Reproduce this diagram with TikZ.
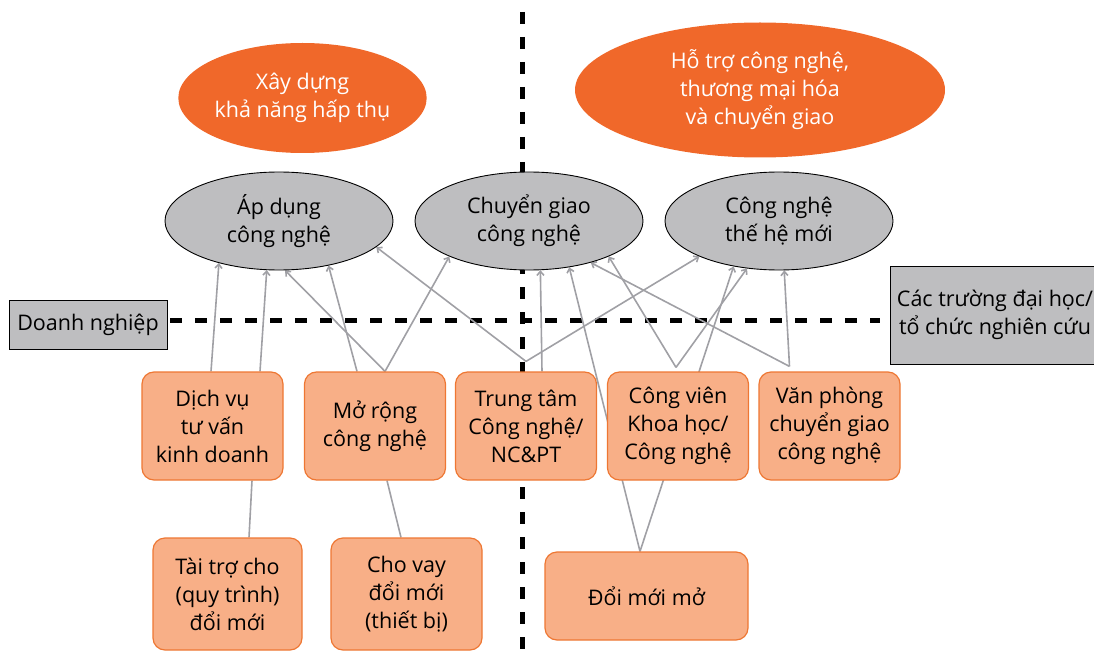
\documentclass[tikz,border=0pt]{standalone}
\usepackage{fontspec}
\setmainfont{Open Sans}
\usetikzlibrary{shapes.geometric}
\usetikzlibrary{arrows.meta}
\usetikzlibrary{backgrounds}
\usetikzlibrary{positioning}

\definecolor{goalorange}{HTML}{F0682A}
\definecolor{toolfill}{HTML}{F8AF87}
\definecolor{tooldraw}{HTML}{EE7733}
\definecolor{greyfill}{HTML}{BEBEC0}
\definecolor{linkgrey}{HTML}{A0A0A5}

\tikzset{
    txt/.style={font=\fontsize{21.5}{28}\selectfont, align=center},
    goal/.style={txt, ellipse, fill=goalorange, text=white, inner sep=0pt},
    area/.style={txt, ellipse, draw=black, line width=0.9pt, fill=greyfill,
        minimum width=228pt, minimum height=98pt, inner sep=0pt},
    tool/.style={txt, rectangle, rounded corners=12pt, draw=tooldraw, line width=1.2pt,
        fill=toolfill, minimum width=141pt, minimum height=108pt, inner sep=0pt},
    side/.style={txt, rectangle, draw=black, line width=0.9pt, fill=greyfill, inner sep=0pt},
    link/.style={draw=linkgrey, line width=1.6pt, -{Straight Barb[length=4pt,width=7pt]}},
    tie/.style={draw=linkgrey, line width=1.6pt},
    divider/.style={line width=5pt, dash pattern=on 12pt off 13pt}
}

\begin{document}
\begin{tikzpicture}[x=1pt,y=-1pt]
    \useasboundingbox (0,0) rectangle (1094,655);

    % Goals
    \node[goal, minimum width=235pt, minimum height=110pt] (absorb) at (302.5,98) {Xây dựng\\khả năng hấp thụ};
    \node[goal, minimum width=370pt, minimum height=135pt] (support) at (760,90) {Hỗ trợ công nghệ,\\thương mại hóa\\và chuyển giao};

    % Areas
    \node[area] (adopt) at (279,221) {Áp dụng\\công nghệ};
    \node[area] (transfer) at (529,221) {Chuyển giao\\công nghệ};
    \node[area] (newtech) at (779,221) {Công nghệ\\thế hệ mới};

    % Side labels
    \node[side, minimum width=158pt, minimum height=49pt] (firms) at (88,324.5) {Doanh nghiệp};
    \node[side, minimum width=210pt, minimum height=98pt] (univ) at (995,315) {Các trường đại học/\\tổ chức nghiên cứu};

    % Instruments
    \node[tool] (consult) at (212.5,426) {Dịch vụ\\tư vấn\\kinh doanh};
    \node[tool] (extension) at (375,426) {Mở rộng\\công nghệ};
    \node[tool] (centre) at (526,426) {Trung tâm\\Công nghệ/\\NC\&PT};
    \node[tool] (park) at (678,426) {Công viên\\Khoa học/\\Công nghệ};
    \node[tool] (office) at (829.5,426) {Văn phòng\\chuyển giao\\công nghệ};

    \node[tool, minimum width=149pt, minimum height=112pt] (grant) at (227.5,594) {Tài trợ cho\\(quy trình)\\đổi mới};
    \node[tool, minimum width=151pt, minimum height=112pt] (loan) at (406.5,594) {Cho vay\\đổi mới\\(thiết bị)};
    \node[tool, minimum width=203pt, minimum height=88pt] (open) at (646.5,596) {Đổi mới mở};

    \begin{scope}[on background layer]
        % Dashed dividers
        \coordinate (divtop) at (522,12);
        \coordinate (divbottom) at (522,660);
        \coordinate (divleft) at (170,320);
        \coordinate (divright) at (880,320);
        \draw[divider] (divtop) -- (divbottom);
        \draw[divider] (divleft) -- (divright);

        % Start points on the instruments
        \coordinate (consultA) at ([xshift=-1.5pt]consult.north);
        \coordinate (consultB) at ([xshift=47.5pt]consult.north);
        \coordinate (extA) at ([xshift=10pt]extension.north);
        \coordinate (extB) at ([xshift=-18pt]extension.north);
        \coordinate (centreA) at ([yshift=10pt]centre.north);
        \coordinate (centreB) at ([xshift=16pt]centre.north);
        \coordinate (parkA) at ([xshift=-2pt,yshift=4pt]park.north);
        \coordinate (officeA) at ([xshift=-40pt,yshift=5pt]office.north);
        \coordinate (openA) at ([xshift=-6.5pt]open.north);

        % Arrows up to the areas
        \foreach \from/\to in {consultA/adopt.-145, consultB/adopt.-104,
                extA/adopt.-83, extA/transfer.-156, extB/adopt.-42,
                centreA/adopt.-15, centreA/newtech.-156, centreB/transfer.-77,
                parkA/transfer.-24, parkA/newtech.-124,
                officeA/transfer.-34, officeA/newtech.-84,
                openA/transfer.-49, openA/newtech.-135}
            \draw[link] (\from) -- (\to);

        % Plain ties
        \draw[tie] ([xshift=39.5pt]consult.south) -- ([xshift=21.5pt]grant.north);
        \draw[tie] ([xshift=12pt]extension.south) -- ([xshift=-5.5pt]loan.north);
    \end{scope}
\end{tikzpicture}
\end{document}
